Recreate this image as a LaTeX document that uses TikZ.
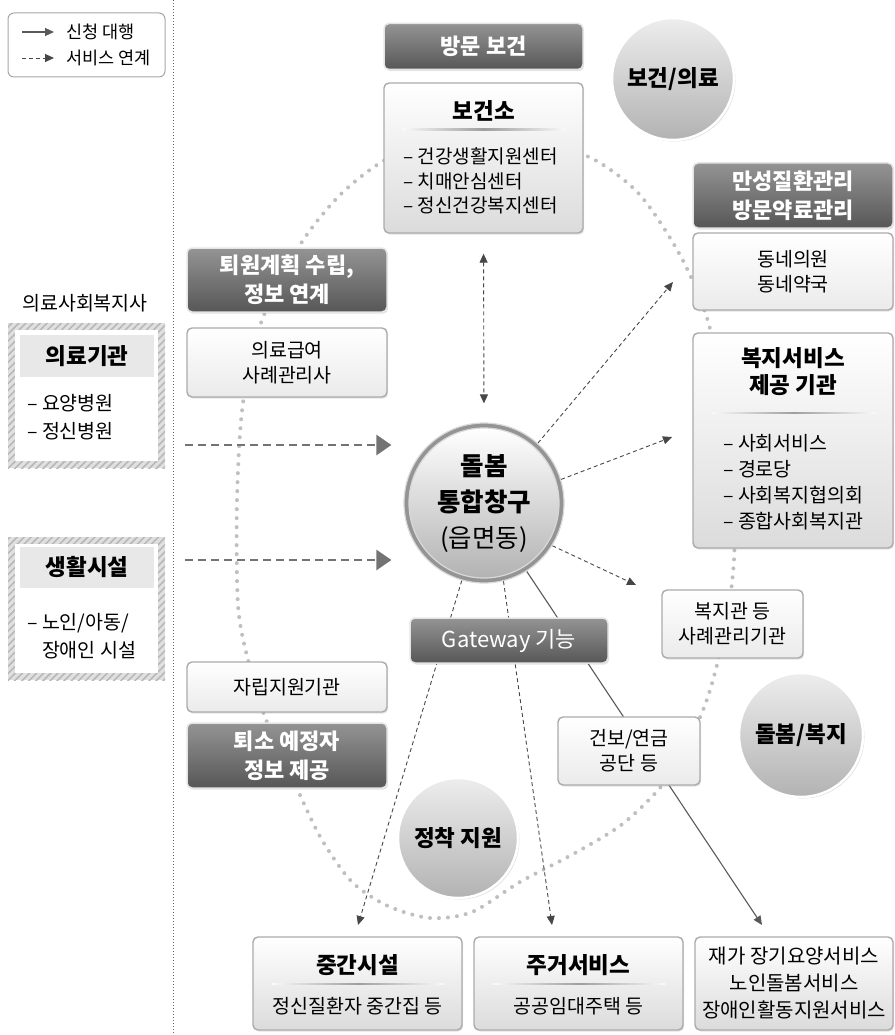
\documentclass[tikz,border=0pt]{standalone}
\usepackage{fontspec}
\setmainfont{Noto Sans CJK KR}
\usetikzlibrary{arrows.meta,shadows,patterns.meta,backgrounds}
\newcommand\ftxt{\fontsize{19.5}{25}\selectfont}
\newcommand\fsmall{\fontsize{17.5}{22}\selectfont}
\newcommand\fttl{\bfseries\fontsize{22.5}{27}\selectfont}
\newcommand\fdark{\bfseries\fontsize{22}{29}\selectfont}
\begin{document}
\begin{tikzpicture}[x=1pt,y=-1pt,
 tx/.style={inner sep=0pt, align=center, font=\ftxt},
 ttl/.style={inner sep=0pt, align=center, font=\fttl},
 shad/.style={drop shadow={opacity=0.22, shadow xshift=1.2pt, shadow yshift=-1.6pt}},
 lbox/.style={draw=black!33, line width=1.4pt, rounded corners=5pt, top color=white, bottom color=black!8, inner sep=0pt, align=center, font=\ftxt, shad},
 bigbox/.style={lbox, bottom color=black!14},
 dbox/.style={draw=white!90!black, line width=1.5pt, rounded corners=5pt, top color=black!42, bottom color=black!66, text=white, inner sep=0pt, align=center, font=\fdark, shad},
 gcirc/.style={circle, draw=white, line width=2.5pt, top color=black!7, bottom color=black!30, inner sep=0pt, font=\fttl, drop shadow={opacity=0.25, shadow xshift=1.5pt, shadow yshift=-1.5pt}},
 dotring/.style={draw=black!25, line width=4pt, line cap=round, dash pattern=on 0pt off 9pt},
 vdiv/.style={draw=black!60, line width=0.8pt, dash pattern=on 0.8pt off 2.2pt},
 dashline/.style={draw=black!72, line width=0.9pt, dash pattern=on 4pt off 3pt},
 dasharr/.style={dashline, -{Triangle[length=9pt,width=8pt]}},
 solline/.style={draw=black!65, line width=1.1pt},
 solarr/.style={solline, -{Triangle[length=9pt,width=8pt]}},
 bigarr/.style={draw=black!55, line width=2.6pt, dash pattern=on 8pt off 5pt, -{Triangle[length=15pt,width=20pt]}},
 hatch/.style={fill=black!12, postaction={pattern={Lines[angle=45,distance=5pt,line width=1.6pt]}, pattern color=black!28}, inner sep=0pt},
 sep/.style={left color=black!2, right color=black!2, middle color=black!38}
]
\useasboundingbox (0,0) rectangle (894,1035);

% dotted ring
\begin{pgfonlayer}{background}
\draw[dotring] plot[smooth cycle] coordinates {(487,136) (545,143) (595,160) (640,195) (680,255) (707,318) (725,400) (734,480) (734,560) (725,630) (705,705) (670,775) (625,822) (575,853) (520,882) (472,912) (430,918) (388,906) (352,882) (322,840) (300,795) (265,717) (248,660) (238,605) (237,500) (243,403) (262,320) (300,245) (340,195) (385,160) (435,142)};
\end{pgfonlayer}

% divider
\coordinate (vtop) at (173,0);
\coordinate (vbot) at (173,1035);
\draw[vdiv] (vtop) -- (vbot);

% legend
\node[draw=black!35, line width=1pt, rounded corners=6pt, minimum width=157pt, minimum height=64pt, inner sep=0pt] (leg) at (86.5,45) {};
\coordinate (l1a) at (22,32); \coordinate (l1b) at (54,32);
\coordinate (l2a) at (22,58); \coordinate (l2b) at (54,58);
\draw[solarr] (l1a) -- (l1b);
\draw[dasharr] (l2a) -- (l2b);
\node[inner sep=0pt, anchor=west, font=\fsmall] (l1t) at (66,32) {신청 대행};
\node[inner sep=0pt, anchor=west, font=\fsmall] (l2t) at (66,58) {서비스 연계};

% left column
\node[tx] (mswt) at (85,303) {의료사회복지사};
\node[hatch, minimum width=157pt, minimum height=145pt] (medo) at (86.5,395.5) {};
\node[fill=white, minimum width=143pt, minimum height=131pt, inner sep=0pt] (medi) at (86.5,395.5) {};
\node[fill=black!9, minimum width=134pt, minimum height=42pt, inner sep=0pt, font=\fttl] (medh) at (87,356) {의료기관};
\node[tx, anchor=west, align=left, font=\fontsize{19.5}{28}\selectfont] (medl) at (27,417) {– 요양병원\\– 정신병원};

\node[hatch, minimum width=157pt, minimum height=143pt] (livo) at (86.5,608.5) {};
\node[fill=white, minimum width=143pt, minimum height=129pt, inner sep=0pt] (livi) at (86.5,608.5) {};
\node[fill=black!9, minimum width=134pt, minimum height=41pt, inner sep=0pt, font=\fttl] (livh) at (87,567.5) {생활시설};
\node[tx, anchor=west, align=left, font=\fontsize{19.5}{28}\selectfont] (livl) at (27,636) {– 노인/아동/\\\phantom{– }장애인 시설};

% top center
\node[dbox, minimum width=199pt, minimum height=46pt] (visit) at (483.5,46.5) {방문 보건};
\node[bigbox, minimum width=199pt, minimum height=150pt] (bgs) at (483.5,158) {};
\node[ttl] (bgst) at (484,111) {보건소};
\shade[sep] (402,128.8) rectangle (566,130.2);
\node[tx, anchor=west, align=left, font=\fontsize{19}{24.5}\selectfont] (bgsl) at (403,181) {– 건강생활지원센터\\– 치매안심센터\\– 정신건강복지센터};

\node[gcirc, minimum size=122pt] (c1) at (673,79) {보건/의료};

% right column
\node[dbox, minimum width=200pt, minimum height=65pt] (chron) at (793,195.5) {만성질환관리\\방문약료관리};
\node[lbox, minimum width=200pt, minimum height=77pt] (local) at (793,271.5) {동네의원\\동네약국};
\node[bigbox, minimum width=200pt, minimum height=215pt] (wel) at (793,440.5) {};
\node[ttl] (welt) at (793,371.5) {복지서비스\\제공 기관};
\shade[sep] (712,412.3) rectangle (876,413.7);
\node[tx, anchor=west, align=left, font=\fontsize{19.5}{26}\selectfont] (well) at (723,482) {– 사회서비스\\– 경로당\\– 사회복지협의회\\– 종합사회복지관};

% left middle boxes
\node[dbox, minimum width=200pt, minimum height=64pt] (disc) at (287,280) {퇴원계획 수립,\\정보 연계};
\node[lbox, minimum width=200pt, minimum height=69pt] (medaid) at (287,362.5) {의료급여\\사례관리사};
\node[lbox, minimum width=200pt, minimum height=50pt] (indep) at (287,687) {자립지원기관};
\node[dbox, minimum width=200pt, minimum height=65pt] (leave) at (287,755.5) {퇴소 예정자\\정보 제공};

% hub
\node[circle, minimum size=160pt, inner sep=0pt, fill=black!42, draw=black!15, line width=1.2pt] (hub) at (484,503) {};
\shade[top color=white, bottom color=black!30] (hub.center) circle (75);
\draw[white!85!black, line width=1.2pt] (hub.center) circle (75);
\node[inner sep=0pt, align=center, font=\fontsize{25.5}{36}\selectfont] (hubt) at (484,504) {{\bfseries 돌봄}\\{\bfseries 통합창구}\\(읍면동)};

% middle right boxes
\node[lbox, minimum width=141pt, minimum height=68pt] (case) at (732.5,624) {복지관 등\\사례관리기관};
\node[lbox, minimum width=142pt, minimum height=68pt] (nhis) at (629,751) {건보/연금\\공단 등};
\node[gcirc, minimum size=124pt] (c2) at (801,735) {돌봄/복지};

\node[dbox, minimum width=198pt, minimum height=45pt, font=\fontsize{22}{29}\selectfont] (gate) at (509,640.5) {Gateway 기능};
\node[gcirc, minimum size=120pt] (c3) at (458,838) {정착 지원};

% bottom boxes
\node[bigbox, minimum width=209pt, minimum height=93pt] (mid) at (357.5,983.5) {};
\node[ttl] (midt) at (357.5,965) {중간시설};
\shade[sep] (272,983.3) rectangle (444,984.7);
\node[tx] (mids) at (357.5,1006) {정신질환자 중간집 등};
\node[bigbox, minimum width=209pt, minimum height=93pt] (house) at (578.5,983.5) {};
\node[ttl] (houset) at (578.5,965) {주거서비스};
\shade[sep] (493,983.3) rectangle (665,984.7);
\node[tx] (houses) at (578.5,1006) {공공임대주택 등};
\node[bigbox, minimum width=198pt, minimum height=93pt, font=\fontsize{20}{27}\selectfont] (home) at (794,983.5) {재가 장기요양서비스\\노인돌봄서비스\\장애인활동지원서비스};

% connectors
\coordinate (la1) at (185,445);
\coordinate (la2) at (185,560);
\coordinate (e1) at (673,282);
\coordinate (e2) at (672,437);
\coordinate (e3) at (636,585);
\coordinate (e4) at (358,925);
\coordinate (e5) at (552,925);
\coordinate (e6) at (762,925);
\begin{pgfonlayer}{background}
\draw[bigarr, shorten >=12pt] (la1) -- (hub.west |- la1);
\draw[bigarr, shorten >=12pt] (la2) -- (hub.west |- la2);
\draw[dashline, {Triangle[length=9pt,width=8pt]}-{Triangle[length=9pt,width=8pt]}, shorten <=20pt, shorten >=19pt] (bgs.south) -- (hub.north);
\draw[dasharr] (hub.48) -- (e1);
\draw[dasharr] (hub.17) -- (e2);
\draw[dasharr] (hub.-32) -- (e3);
\draw[dasharr] (hub.254) -- (e4);
\draw[dasharr] (hub.284) -- (e5);
\draw[solarr] (hub.302) -- (e6);
\end{pgfonlayer}
\end{tikzpicture}
\end{document}
